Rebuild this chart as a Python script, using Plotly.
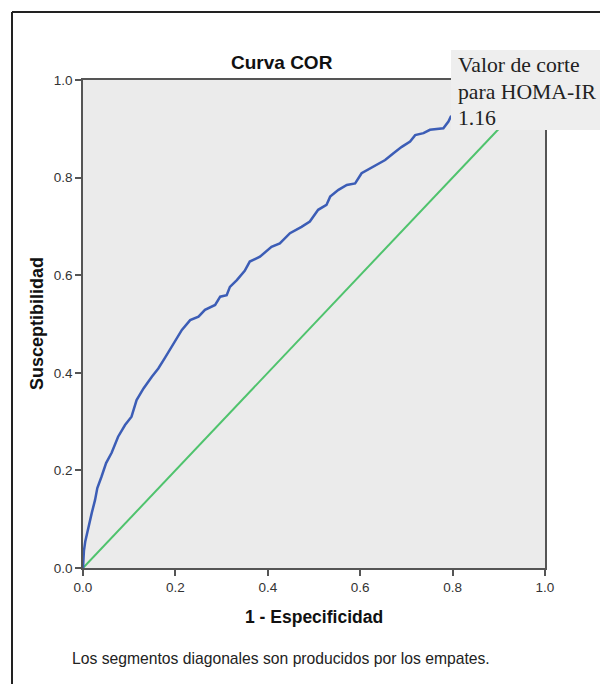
import plotly.graph_objects as go

# ROC curve points (1 - specificity, sensitivity)
fpr = [0.0, 0.001, 0.002, 0.005, 0.0085, 0.0115, 0.019, 0.026, 0.031, 0.040, 0.050, 0.062,
       0.076, 0.091, 0.105, 0.116, 0.131, 0.149, 0.163, 0.177, 0.188, 0.199, 0.214,
       0.232, 0.250, 0.264, 0.286, 0.297, 0.311, 0.318, 0.333, 0.350, 0.361, 0.383,
       0.408, 0.426, 0.448, 0.473, 0.491, 0.509, 0.527, 0.535, 0.553, 0.571, 0.589,
       0.603, 0.621, 0.639, 0.654, 0.672, 0.690, 0.708, 0.719, 0.737, 0.751, 0.780,
       0.791, 0.796, 0.85, 0.90, 0.95, 1.0]
tpr = [0.0, 0.02, 0.035, 0.055, 0.07, 0.085, 0.113, 0.139, 0.164, 0.187, 0.215, 0.236,
       0.269, 0.293, 0.310, 0.344, 0.368, 0.392, 0.409, 0.430, 0.447, 0.464, 0.488,
       0.508, 0.515, 0.529, 0.539, 0.556, 0.559, 0.576, 0.590, 0.609, 0.628, 0.638,
       0.658, 0.665, 0.686, 0.699, 0.710, 0.734, 0.744, 0.761, 0.775, 0.785, 0.788,
       0.809, 0.819, 0.828, 0.836, 0.850, 0.863, 0.874, 0.887, 0.891, 0.898, 0.901,
       0.915, 0.925, 0.95, 0.97, 0.99, 1.0]
ref_x = [0.0, 1.0]
ref_y = [0.0, 1.0]
tick_vals = [0.0, 0.2, 0.4, 0.6, 0.8, 1.0]
tick_text = ["0.0", "0.2", "0.4", "0.6", "0.8", "1.0"]
box_lines = ["Valor de corte", "para HOMA-IR", "1.16"]

# page offset (body margin) compensation
OFF = 8
L, R, T, B = 83, 545, 80, 568
W, H = 608, 684

def xp(px):
    return (px - L) / (R - L)

def yp(py):
    return (B - py) / (B - T)

fig = go.Figure()
fig.add_trace(go.Scatter(x=ref_x, y=ref_y, mode="lines",
                         line=dict(color="#4fc36d", width=2), hoverinfo="skip"))
fig.add_trace(go.Scatter(x=fpr, y=tpr, mode="lines",
                         line=dict(color="#3c5db6", width=2.5), hoverinfo="skip"))

axis_common = dict(range=[0, 1], tickvals=tick_vals, ticktext=tick_text,
                   showgrid=False, zeroline=False, showline=True, mirror=True,
                   linecolor="#555555", linewidth=1.6, ticks="outside", ticklen=6,
                   tickwidth=1.6, tickcolor="#555555",
                   tickfont=dict(family="Liberation Sans, Arial", size=13.5, color="#333333"))

fig.update_layout(
    width=W - OFF, height=H - OFF,
    margin=dict(l=L - OFF, r=W - R, t=T - OFF, b=H - B, pad=0),
    paper_bgcolor="white", plot_bgcolor="#ebebeb",
    showlegend=False,
    xaxis=dict(axis_common),
    yaxis=dict(axis_common),
)

ann_font = "Liberation Sans, Arial"
annotations = [
    dict(text="<b>Curva COR</b>", x=xp(282), y=yp(63), xanchor="center", yanchor="middle",
         font=dict(family=ann_font, size=19, color="#111111")),
    dict(text="<b>1 - Especificidad</b>", x=xp(314), y=yp(617), xanchor="center", yanchor="middle",
         font=dict(family=ann_font, size=17.5, color="#111111")),
    dict(text="<b>Susceptibilidad</b>", x=xp(37), y=yp(324), xanchor="center", yanchor="middle",
         textangle=-90, font=dict(family=ann_font, size=18, color="#111111")),
    dict(text="Los segmentos diagonales son producidos por los empates.", x=xp(70), y=yp(658),
         xanchor="left", yanchor="middle",
         font=dict(family=ann_font, size=15.7, color="#222222")),
]
line_centers = [65, 92, 118]
for txt, cy in zip(box_lines, line_centers):
    annotations.append(dict(text=txt, x=xp(456), y=yp(cy), xanchor="left", yanchor="middle",
                            font=dict(family="Liberation Serif, Times New Roman", size=21.7,
                                      color="#222222")))
for a in annotations:
    a.update(xref="paper", yref="paper", showarrow=False)
fig.update_layout(annotations=annotations)

# cut-off label box (drawn above the traces)
fig.add_shape(type="rect", xref="paper", yref="paper", x0=xp(451), x1=xp(640), y0=yp(50), y1=yp(130),
              line=dict(width=0), fillcolor="#eeeeee", layer="above")
# outer frame
fig.add_shape(type="line", xref="paper", yref="paper", x0=xp(12), x1=xp(12), y0=yp(12), y1=yp(720),
              line=dict(color="#222222", width=2))
fig.add_shape(type="line", xref="paper", yref="paper", x0=xp(12), x1=xp(640), y0=yp(12), y1=yp(12),
              line=dict(color="#222222", width=2))

fig.write_html("out.html")
